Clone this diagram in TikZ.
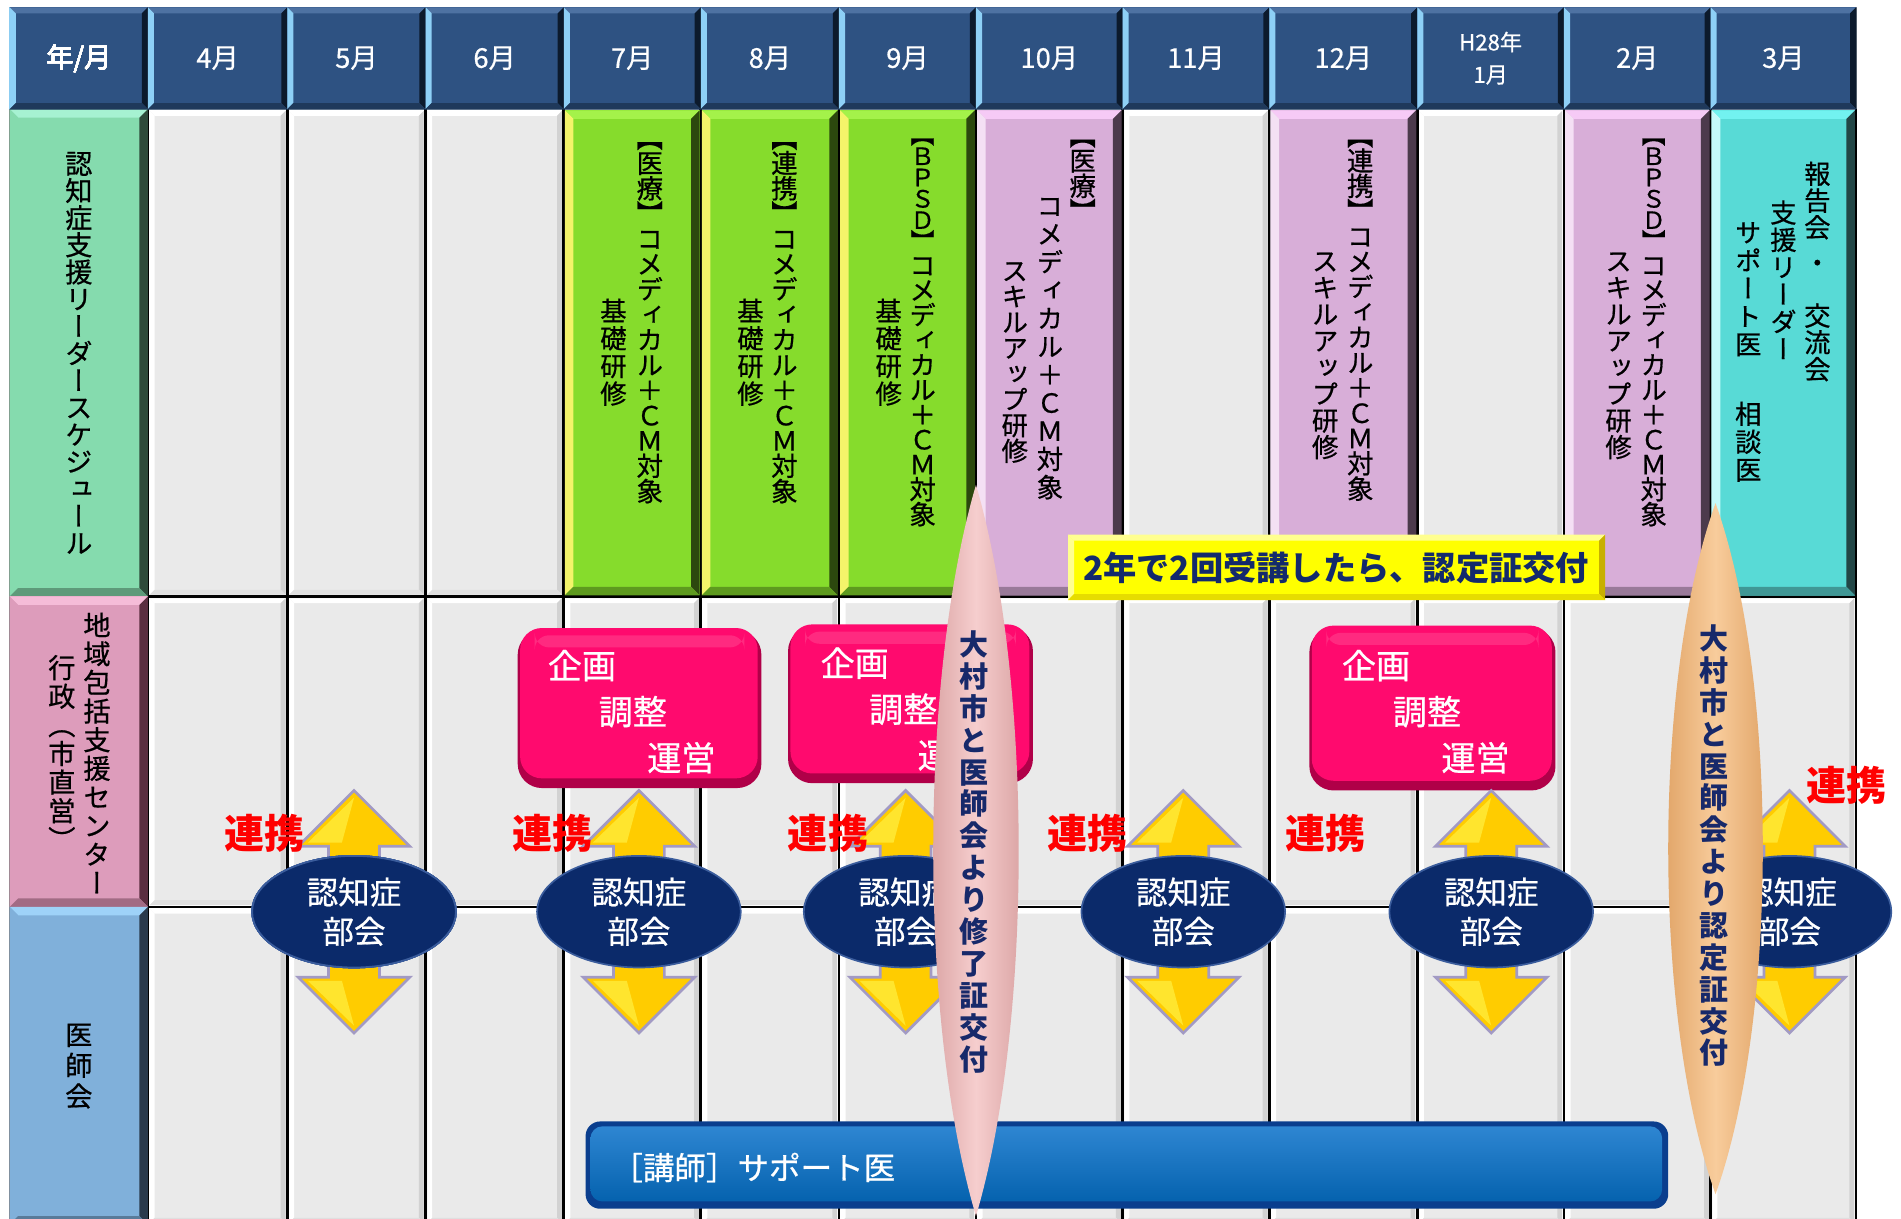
\documentclass[tikz,border=0pt]{standalone}
\usepackage{fontspec}
\setmainfont{Noto Sans CJK JP}
\newfontfamily\jp[FakeBold=0.6]{Noto Sans CJK JP}
\newfontfamily\jpb{Noto Sans CJK JP}
\newfontfamily\vjp[RawFeature=+vert,FakeBold=0.6]{Noto Sans CJK JP}
\newfontfamily\vjpb[RawFeature=+vert]{Noto Sans CJK JP}
\usetikzlibrary{calc,shapes.geometric}
\definecolor{hdr}{HTML}{2E5282}
\definecolor{hdrtop}{HTML}{4E72A2}
\definecolor{hdrleft}{HTML}{8ED0F6}
\definecolor{hdrright}{HTML}{0C1A2C}
\definecolor{cellgray}{HTML}{EAEAEA}
\definecolor{graymid}{HTML}{D2D2D2}
\definecolor{mint}{HTML}{85DBAE}
\definecolor{mintlt}{HTML}{A6F2D2}
\definecolor{mintdk}{HTML}{2E4A3A}
\definecolor{lime}{HTML}{86DC2C}
\definecolor{limelt}{HTML}{A4F24A}
\definecolor{limeyel}{HTML}{F4F46A}
\definecolor{limedk}{HTML}{2C480E}
\definecolor{vio}{HTML}{D8AED8}
\definecolor{violt}{HTML}{F6CAF6}
\definecolor{violt2}{HTML}{F4E0F4}
\definecolor{viodk}{HTML}{4C3A4C}
\definecolor{cyanc}{HTML}{58DAD6}
\definecolor{cyanlt}{HTML}{72F2F0}
\definecolor{cyanlt2}{HTML}{C4FAFA}
\definecolor{cyandk}{HTML}{224646}
\definecolor{rose}{HTML}{DD9CBB}
\definecolor{roselt}{HTML}{F5BCD8}
\definecolor{rosedk}{HTML}{5A2E40}
\definecolor{sky}{HTML}{80B0DA}
\definecolor{skylt}{HTML}{9ED2F8}
\definecolor{skydk}{HTML}{2A3A4C}
\definecolor{ban}{HTML}{FFFF00}
\definecolor{banlt}{HTML}{FFFF90}
\definecolor{bandk}{HTML}{C8B000}
\definecolor{bantext}{HTML}{132A6C}
\definecolor{mag}{HTML}{FF0A6E}
\definecolor{maglt}{HTML}{FF4A92}
\definecolor{magdk}{HTML}{B00048}
\definecolor{navy}{HTML}{0B2A6A}
\definecolor{navylt}{HTML}{3A5C9C}
\definecolor{arrY}{HTML}{FFCC00}
\definecolor{arrO}{HTML}{A29AC4}
\definecolor{pinkov}{HTML}{F6CECE}
\definecolor{pinkovdk}{HTML}{D49A9A}
\definecolor{orov}{HTML}{F8CC9C}
\definecolor{orovdk}{HTML}{DC9C5C}
\definecolor{ovtext}{HTML}{17296A}
\definecolor{barblue}{HTML}{0562AE}
\definecolor{barbluedk}{HTML}{0A3E8E}
\definecolor{barbluelt}{HTML}{2E86D2}
\makeatletter
\newcommand\vst[2]{\vbox{\baselineskip=#1\relax\lineskiplimit=-\maxdimen\lineskip=0pt\vst@a#2\relax}}
\def\vst@a#1{\ifx#1\relax\else\hbox to 1.1em{\hss#1\hss}\expandafter\vst@a\fi}
\makeatother
% bevelled box: x1 y1 x2 y2 b center top left right
\newcommand\bev[9]{%
 \fill[#6] ({#1},{#2}) rectangle ({#3},{#4});
 \fill[#7] ({#1},{#2}) -- ({#3},{#2}) -- ({#3-#5},{#2+#5}) -- ({#1+#5},{#2+#5}) -- cycle;
 \fill[#8] ({#1},{#2}) -- ({#1+#5},{#2+#5}) -- ({#1+#5},{#4-#5}) -- ({#1},{#4}) -- cycle;
 \fill[#9] ({#3},{#2}) -- ({#3},{#4}) -- ({#3-#5},{#4-#5}) -- ({#3-#5},{#2+#5}) -- cycle;
 \fill[#9!45!#6] ({#1},{#4}) -- ({#3},{#4}) -- ({#3-#5},{#4-#5}) -- ({#1+#5},{#4-#5}) -- cycle;
}
\newcommand\dblarrow[1]{%
 \filldraw[fill=arrY, draw=arrO, line width=1.6pt, line join=miter]
 ({#1},652) -- ({#1+46},698) -- ({#1+21},698) -- ({#1+21},806) -- ({#1+46},806) -- ({#1},852)
 -- ({#1-46},806) -- ({#1-21},806) -- ({#1-21},698) -- ({#1-46},698) -- cycle;
 \fill[yellow!70!white, opacity=0.6] ({#1},658) -- ({#1-38},695) -- ({#1-10},695) -- cycle;
 \fill[yellow!70!white, opacity=0.6] ({#1},846) -- ({#1-38},809) -- ({#1-10},809) -- cycle;
}
\newcommand\magbox[4]{%
 \fill[magdk, rounded corners=0.5cm] ({#1},{#2+2}) rectangle ({#3},{#4});
 \fill[mag, rounded corners=0.45cm] ({#1+2},{#2}) rectangle ({#3-3},{#4-8});
 \fill[maglt, opacity=0.5, rounded corners=0.3cm] ({#1+14},{#2+6}) rectangle ({#3-14},{#2+16});
}
\begin{document}
\begin{tikzpicture}[x=0.025cm,y=-0.025cm,
 vt/.style={anchor=north, inner sep=0pt, font=\vjp\fontsize{15.5pt}{15pt}\selectfont},
 vtl/.style={vt, font=\vjp\fontsize{16pt}{16pt}\selectfont},
 vts/.style={vt, font=\vjp\fontsize{14pt}{14pt}\selectfont},
 hdrtxt/.style={text=white, inner sep=0pt, align=center, font=\jp\fontsize{16pt}{19pt}\selectfont},
 hdrsm/.style={hdrtxt, font=\jp\fontsize{13pt}{19pt}\selectfont},
 bantxt/.style={text=bantext, inner sep=0pt, font=\jpb\bfseries\fontsize{19.5pt}{20pt}\selectfont},
 boxtxt/.style={text=white, inner sep=0pt, font=\jp\fontsize{20pt}{20pt}\selectfont},
 bukai/.style={ellipse, fill=navy, draw=navylt, line width=1pt, minimum width=4.2cm, minimum height=2.3cm, inner sep=0pt, text=white, align=center, font=\jp\fontsize{18.5pt}{23pt}\selectfont},
 renkei/.style={text=red, inner sep=0pt, font=\jpb\bfseries\fontsize{23.5pt}{23pt}\selectfont},
 ovtxt/.style={vt, text=ovtext, font=\vjpb\bfseries\fontsize{17pt}{17pt}\selectfont},
 bartxt/.style={anchor=west, text=white, inner sep=0pt, font=\jp\fontsize{18.5pt}{18.5pt}\selectfont},
 gridline/.style={black, line width=1.5pt}]
\useasboundingbox (0,0) rectangle (1568,1005);
\fill[white] (0,0) rectangle (1568,1005);
% gray cells
\foreach \a/\b in {122/237,237/351,351/465,465/578,578/692,692/805,805/926,926/1047,1047/1169,1169/1290,1290/1411,1411/1531}{
  \foreach \p/\q in {90/492,492/748,748/1010}{
    \bev{\a+1.5}{\p+1.5}{\b-1.5}{\q-1.5}{4}{cellgray}{white}{white}{graymid}
  }
}
% grid lines
\foreach \a in {122,237,351,465,578,692,805,926,1047,1169,1290,1411,1531}
  \draw[gridline] (\a,90) -- (\a,1010);
\foreach \y in {492,748}
  \draw[gridline] (8,\y) -- (1531,\y);
\draw[gray, line width=0.8pt] (8,6) -- (8,1010);
% row labels
\bev{8}{90}{122}{492}{7}{mint}{mintlt}{mint}{mintdk}
\bev{8}{492}{122}{748}{7}{rose}{roselt}{rose}{rosedk}
\bev{8}{748}{122}{1010}{7}{sky}{skylt}{sky}{skydk}
% coloured cells, row 1
\foreach \a/\b in {465/578,578/692,692/805}
  \bev{\a+1}{91}{\b-1}{491}{7}{lime}{limelt}{limeyel}{limedk}
\foreach \a/\b in {805/926,1047/1169,1290/1411}
  \bev{\a+1}{91}{\b-1}{491}{7}{vio}{violt}{violt2}{viodk}
\bev{1412}{91}{1530}{491}{7}{cyanc}{cyanlt}{cyanlt2}{cyandk}
% header
\foreach \a/\b in {8/122,122/237,237/351,351/465,465/578,578/692,692/805,805/926,926/1047,1047/1169,1169/1290,1290/1411,1411/1531}
  \bev{\a}{6}{\b}{90}{5}{hdr}{hdrtop}{hdrleft}{hdrright}
\node[hdrtxt] (m0) at (65,48) {年/月};
\node[hdrtxt] (m1) at (179.5,48) {4月};
\node[hdrtxt] (m2) at (294,48) {5月};
\node[hdrtxt] (m3) at (408,48) {6月};
\node[hdrtxt] (m4) at (521.5,48) {7月};
\node[hdrtxt] (m5) at (635,48) {8月};
\node[hdrtxt] (m6) at (748.5,48) {9月};
\node[hdrtxt] (m7) at (865.5,48) {10月};
\node[hdrtxt] (m8) at (986.5,48) {11月};
\node[hdrtxt] (m9) at (1108,48) {12月};
\node[hdrsm] (m10) at (1229.5,48) {H28年\\1月};
\node[hdrtxt] (m11) at (1350.5,48) {2月};
\node[hdrtxt] (m12) at (1471,48) {3月};
% row label texts
\node[vtl] (l1) at (65,125) {\vst{15.9pt}{認知症支援リーダースケジュール}};
\node[vtl] (l2a) at (80,505) {\vst{16.8pt}{地域包括支援センター}};
\node[vtl] (l2b) at (51,540) {\vst{16.8pt}{行政（市直営）}};
\node[vtl] (l3) at (65,844) {\vst{18pt}{医師会}};
% row 1 texts
\node[vt] (c7a) at (536,117) {\vst{14.8pt}{【医療】コメディカル＋ＣＭ対象}};
\node[vt] (c7b) at (506,246) {\vst{16.2pt}{基礎研修}};
\node[vt] (c8a) at (647,117) {\vst{14.8pt}{【連携】コメディカル＋ＣＭ対象}};
\node[vt] (c8b) at (619,246) {\vst{16.2pt}{基礎研修}};
\node[vts] (c9a) at (761,114) {\vst{12.5pt}{【ＢＰＳＤ】}};
\node[vt] (c9b) at (761,212) {\vst{14.6pt}{コメディカル＋ＣＭ対象}};
\node[vt] (c9c) at (733,246) {\vst{16.2pt}{基礎研修}};
\node[vt] (c10a) at (893,115) {\vst{14.8pt}{【医療】}};
\node[vt] (c10b) at (866,163) {\vst{16.5pt}{コメディカル＋ＣＭ対象}};
\node[vt] (c10c) at (837,216) {\vst{15.1pt}{スキルアップ研修}};
\node[vt] (c12a) at (1122,115) {\vst{14.8pt}{【連携】コメディカル＋ＣＭ対象}};
\node[vt] (c12b) at (1093,208) {\vst{15.6pt}{スキルアップ研修}};
\node[vts] (c2a) at (1364,114) {\vst{12.5pt}{【ＢＰＳＤ】}};
\node[vt] (c2b) at (1364,212) {\vst{14.6pt}{コメディカル＋ＣＭ対象}};
\node[vt] (c2c) at (1335,208) {\vst{15.6pt}{スキルアップ研修}};
\node[vt] (c3a) at (1499,133) {\vst{15.7pt}{報告会}};
\node[vt] (c3b) at (1499,214) {\vst{15.7pt}{・}};
\node[vt] (c3c) at (1499,250) {\vst{15.7pt}{交流会}};
\node[vt] (c3d) at (1471,165) {\vst{16pt}{支援リーダー}};
\node[vt] (c3e) at (1442,183) {\vst{16.4pt}{サポート医}};
\node[vt] (c3f) at (1442,331) {\vst{16.4pt}{相談医}};
% banner
\bev{881}{441}{1324}{495}{5}{ban}{banlt}{banlt}{bandk}
\node[bantxt] (bn) at (1102,468) {2年で2回受講したら、認定証交付};
% magenta boxes
\magbox{427}{518}{628}{650}
\node[boxtxt] (k1a) at (480,549) {企画};
\node[boxtxt] (k1b) at (522,587) {調整};
\node[boxtxt] (k1c) at (562,625) {運営};
\magbox{650}{515}{852}{646}
\node[boxtxt] (k2a) at (705,547) {企画};
\node[boxtxt] (k2b) at (745,585) {調整};
\node[boxtxt] (k2c) at (785,623) {運営};
\magbox{1080}{516}{1283}{652}
\node[boxtxt] (k3a) at (1135,549) {企画};
\node[boxtxt] (k3b) at (1177,587) {調整};
\node[boxtxt] (k3c) at (1217,625) {運営};
% arrows and bukai ellipses
\foreach \c in {292,527,747,976,1230,1476} \dblarrow{\c}
\node[bukai] (e1) at (292,752) {認知症\\部会};
\node[bukai] (e2) at (527,752) {認知症\\部会};
\node[bukai] (e3) at (747,752) {認知症\\部会};
\node[bukai] (e4) at (976,752) {認知症\\部会};
\node[bukai] (e5) at (1230,752) {認知症\\部会};
\node[bukai] (e6) at (1476,752) {認知症\\部会};
% renkei labels
\node[renkei] (r1) at (218,687) {連携};
\node[renkei] (r2) at (456,687) {連携};
\node[renkei] (r3) at (683,687) {連携};
\node[renkei] (r4) at (897,687) {連携};
\node[renkei] (r5) at (1093,687) {連携};
\node[renkei] (r6) at (1523,648) {連携};
% blue bar
\fill[barbluedk, rounded corners=0.3cm] (483,925) rectangle (1376,997);
\shade[top color=barbluelt, bottom color=barblue, rounded corners=0.25cm] (487,929) rectangle (1371,991);
\node[bartxt] (bar) at (504,963) {［講師］サポート医};
% ovals
\shade[left color=pinkovdk, right color=pinkovdk, middle color=pinkov]
  (805,400) .. controls (852,560) and (852,845) .. (805,1003) .. controls (758,845) and (758,560) .. (805,400) -- cycle;
\node[ovtxt] (ov1) at (803,520) {\vst{18.7pt}{大村市と医師会より修了証交付}};
\shade[left color=orovdk, right color=orovdk, middle color=orov]
  (1415,415) .. controls (1467,560) and (1467,840) .. (1415,985) .. controls (1363,840) and (1363,560) .. (1415,415) -- cycle;
\node[ovtxt] (ov2) at (1414,515) {\vst{18.7pt}{大村市と医師会より認定証交付}};
\end{tikzpicture}
\end{document}
